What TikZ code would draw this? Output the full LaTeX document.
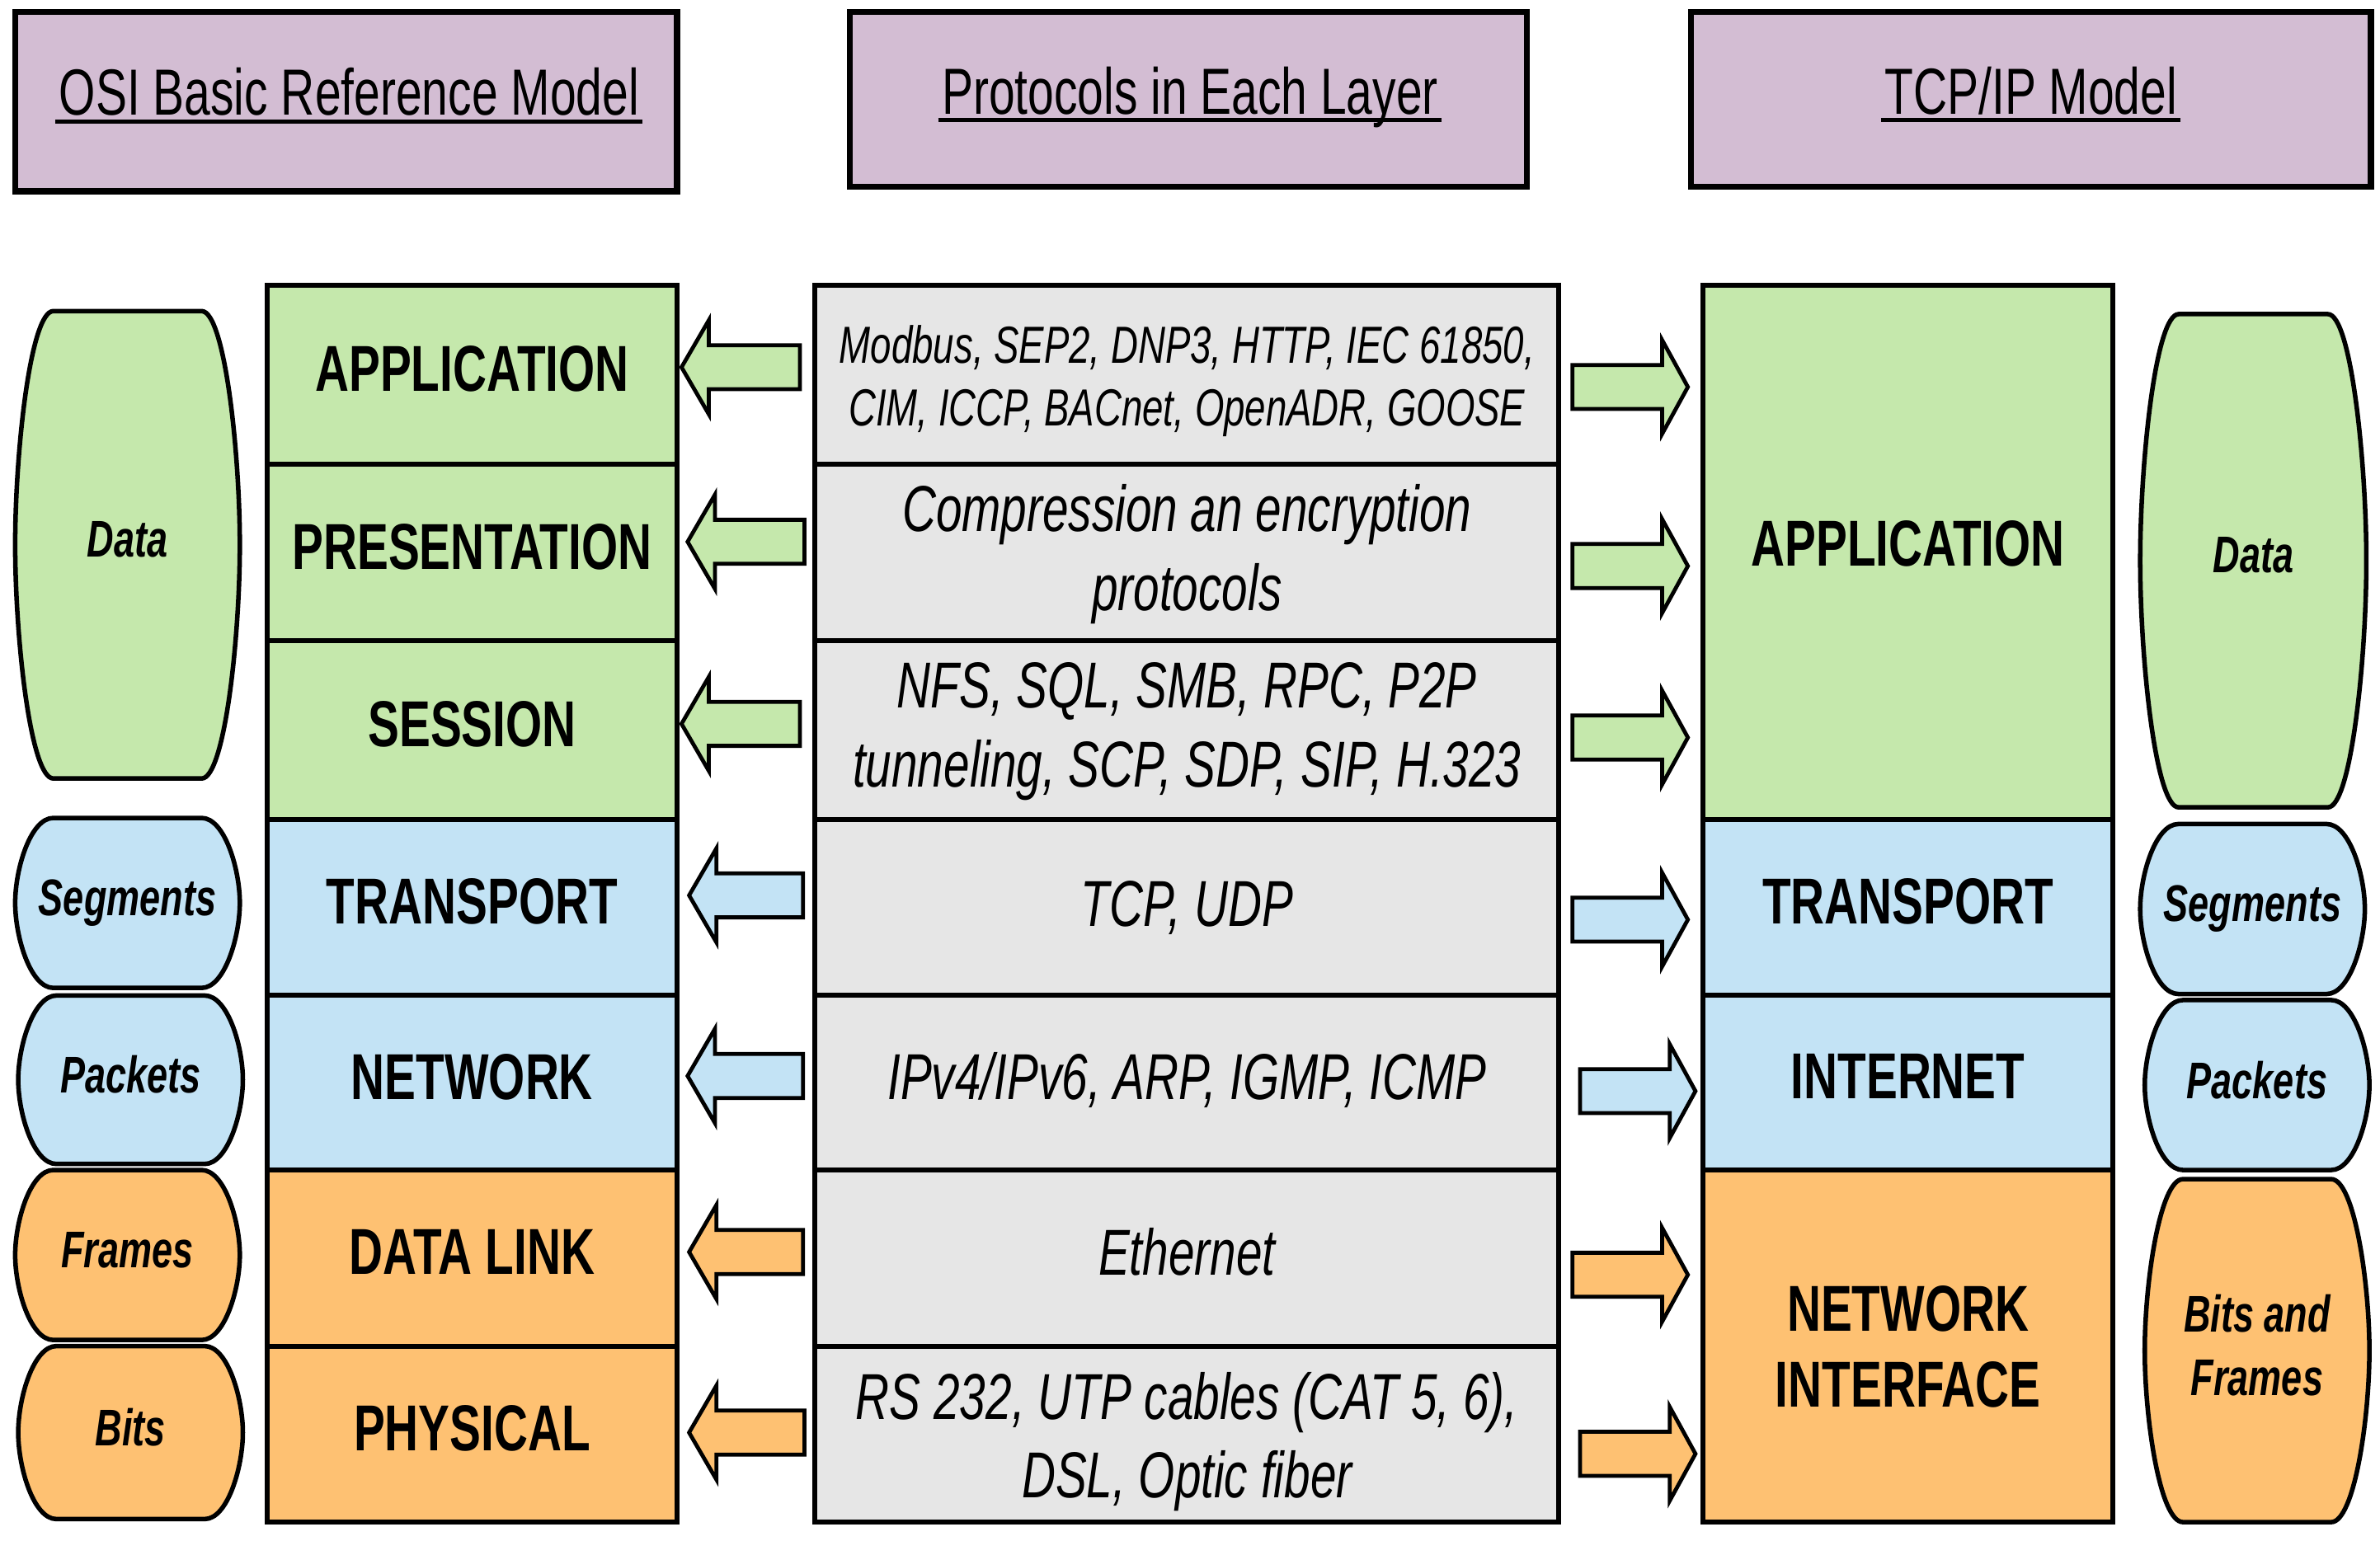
\documentclass[tikz,border=0pt]{standalone}
\usepackage{fontspec}
\setmainfont{Liberation Sans}[FakeStretch=0.72]
\definecolor{lgreen}{HTML}{C5E8AC}
\definecolor{lblue}{HTML}{C3E3F5}
\definecolor{lorange}{HTML}{FEC172}
\definecolor{lgray}{HTML}{E6E6E6}
\definecolor{hpurple}{HTML}{D3BDD3}
\newcommand\pdushape[7]{%
 \pgfmathsetmacro\pdd{0.17*(#2-#1)}%
 \pgfmathsetmacro\pdh{0.3*(#4-#3)}%
 \pgfmathsetmacro\pdm{0.5*(#3+#4)}%
 \draw[pdu, fill=#5] ({#1+\pdd},#3) -- ({#2-\pdd},#3)
   .. controls ({#2-0.4*\pdd},#3) and (#2,{#3+\pdh}) .. (#2,\pdm)
   .. controls (#2,{#4-\pdh}) and ({#2-0.4*\pdd},#4) .. ({#2-\pdd},#4)
   -- ({#1+\pdd},#4)
   .. controls ({#1+0.4*\pdd},#4) and (#1,{#4-\pdh}) .. (#1,\pdm)
   .. controls (#1,{#3+\pdh}) and ({#1+0.4*\pdd},#3) .. cycle;
 \node[pdutext] (#6) at ({0.5*(#1+#2)},\pdm) {#7};}
\newcommand\leftarr[4]{%
 \draw[blockarrow, fill=#4] (#2,#1) -- ({#2+18},{#1-31}) -- ({#2+18},{#1-14.5}) -- (#3,{#1-14.5})
   -- (#3,{#1+14.5}) -- ({#2+18},{#1+14.5}) -- ({#2+18},{#1+31}) -- cycle;}
\newcommand\rightarr[4]{%
 \draw[blockarrow, fill=#4] (#3,#1) -- ({#3-17},{#1-31}) -- ({#3-17},{#1-14.5}) -- (#2,{#1-14.5})
   -- (#2,{#1+14.5}) -- ({#3-17},{#1+14.5}) -- ({#3-17},{#1+31}) -- cycle;}
\begin{document}
\begin{tikzpicture}[x=0.5pt,y=-0.5pt,
  hdr/.style={draw, line width=2pt, fill=hpurple, inner sep=0pt},
  hdrtext/.style={anchor=base, inner xsep=1pt, inner ysep=0pt, font=\fontsize{21.5}{26}\selectfont},
  layer/.style={draw, line width=1.6pt, inner sep=0pt, minimum width=135pt, text depth=4pt, font=\fontsize{21.4}{25}\selectfont\bfseries, align=center},
  proto/.style={draw, line width=1.6pt, fill=lgray, inner sep=0pt, minimum width=245pt},
  prototext/.style={inner sep=0pt, font=\fontsize{21.4}{26}\selectfont\itshape, align=center},
  pdu/.style={draw, line width=1.5pt},
  pdutext/.style={text depth=3.6pt, font=\fontsize{17}{21}\selectfont\bfseries\itshape, align=center},
  blockarrow/.style={draw, line width=1.3pt, line join=miter}]
\useasboundingbox (0,0) rectangle (1568,1015);

% headers
\node[hdr, minimum width=218pt, minimum height=59pt] (hosi) at (228,67) {};
\node[hdr, minimum width=223pt, minimum height=57.5pt] (hpro) at (783,65.5) {};
\node[hdr, minimum width=224pt, minimum height=57.5pt] (htcp) at (1338,65.5) {};
\node[hdrtext] (tosi) at (230,76) {OSI Basic Reference Model};
\node[hdrtext] (tpro) at (784,75) {Protocols in Each Layer};
\node[hdrtext] (ttcp) at (1338,75) {TCP/IP Model};
\foreach \t in {tosi,tpro,ttcp}
  \draw[line width=1.25pt] ([yshift=-2.1pt]\t.base west) -- ([yshift=-2.1pt]\t.base east);

% OSI layers
\node[layer, fill=lgreen, minimum height=59pt] (osi1) at (311,247) {APPLICATION};
\node[layer, fill=lgreen, minimum height=58pt] (osi2) at (311,364) {PRESENTATION};
\node[layer, fill=lgreen, minimum height=59pt] (osi3) at (311,481) {SESSION};
\node[layer, fill=lblue, minimum height=58pt] (osi4) at (311,598) {TRANSPORT};
\node[layer, fill=lblue, minimum height=57.5pt] (osi5) at (311,713.5) {NETWORK};
\node[layer, fill=lorange, minimum height=58pt] (osi6) at (311,829) {DATA LINK};
\node[layer, fill=lorange, minimum height=58pt] (osi7) at (311,945) {PHYSICAL};

% protocols
\node[proto, minimum height=59pt] (pro1) at (782,247) {};
\node[proto, minimum height=58pt] (pro2) at (782,364) {};
\node[proto, minimum height=59pt] (pro3) at (782,481) {};
\node[proto, minimum height=58pt] (pro4) at (782,598) {};
\node[proto, minimum height=57.5pt] (pro5) at (782,713.5) {};
\node[proto, minimum height=58pt] (pro6) at (782,829) {};
\node[proto, minimum height=58pt] (pro7) at (782,945) {};
\node[prototext, font=\fontsize{17.2}{20.5}\selectfont\itshape] (pt1) at ([yshift=-2pt]pro1.center) {Modbus, SEP2, DNP3, HTTP, IEC 61850,\\CIM, ICCP, BACnet, OpenADR, GOOSE};
\node[prototext] (pt2) at ([yshift=-0.5pt]pro2.center) {Compression an encryption\\protocols};
\node[prototext] (pt3) at ([yshift=-0.5pt]pro3.center) {NFS, SQL, SMB, RPC, P2P\\tunneling, SCP, SDP, SIP, H.323};
\node[prototext] (pt4) at ([yshift=0pt]pro4.center) {TCP, UDP};
\node[prototext] (pt5) at ([yshift=1pt]pro5.center) {IPv4/IPv6, ARP, IGMP, ICMP};
\node[prototext] (pt6) at ([yshift=2pt]pro6.center) {Ethernet};
\node[prototext] (pt7) at ([yshift=-2.5pt]pro7.center) {RS 232, UTP cables (CAT 5, 6),\\DSL, Optic fiber};

% TCP/IP layers
\node[layer, fill=lgreen, minimum height=176pt, text depth=6pt] (tcp1) at (1257,364) {APPLICATION};
\node[layer, fill=lblue, minimum height=58pt] (tcp2) at (1257,598) {TRANSPORT};
\node[layer, fill=lblue, minimum height=57.5pt] (tcp3) at (1257,713.5) {INTERNET};
\node[layer, fill=lorange, minimum height=116pt, text depth=0pt] (tcp4) at (1257,887) {NETWORK\\INTERFACE};

% arrows to OSI
\leftarr{242}{449}{527}{lgreen}
\leftarr{357}{453}{530}{lgreen}
\leftarr{477}{449}{527}{lgreen}
\leftarr{590}{454}{529}{lblue}
\leftarr{709}{453}{529}{lblue}
\leftarr{825}{454}{529}{lorange}
\leftarr{944}{454}{530}{lorange}

% arrows to TCP/IP
\rightarr{255}{1036}{1112}{lgreen}
\rightarr{373}{1036}{1112}{lgreen}
\rightarr{486}{1036}{1112}{lgreen}
\rightarr{606}{1036}{1112}{lblue}
\rightarr{719}{1041}{1117}{lblue}
\rightarr{840}{1036}{1112}{lorange}
\rightarr{958}{1041}{1117}{lorange}

% PDUs left
\pdushape{10}{158}{205}{513}{lgreen}{pl1}{Data}
\pdushape{10}{158}{539}{651}{lblue}{pl2}{Segments}
\pdushape{12}{160}{656}{767}{lblue}{pl3}{Packets}
\pdushape{10}{158}{771}{883}{lorange}{pl4}{Frames}
\pdushape{12}{160}{887}{1001}{lorange}{pl5}{Bits}

% PDUs right
\pdushape{1410}{1559}{207}{532}{lgreen}{pr1}{Data}
\pdushape{1410}{1558}{543}{655}{lblue}{pr2}{Segments}
\pdushape{1413}{1561}{659}{771}{lblue}{pr3}{Packets}
\pdushape{1413}{1561}{777}{1003}{lorange}{pr4}{Bits and\\Frames}
\end{tikzpicture}
\end{document}
